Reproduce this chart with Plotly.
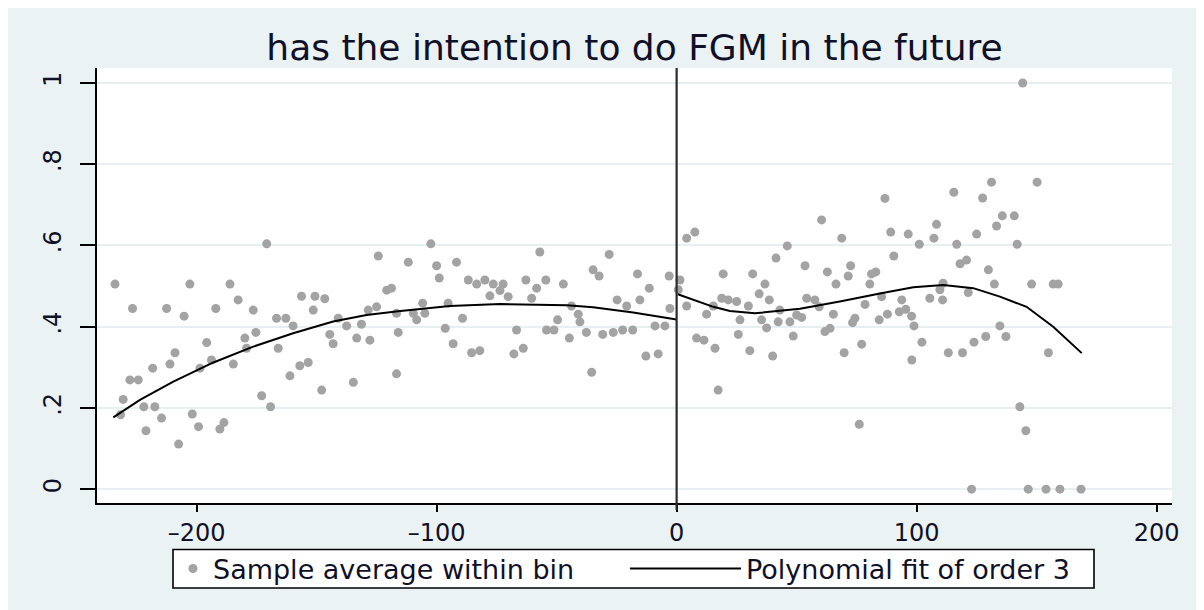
import plotly.graph_objects as go

# ---- data ----
bin_x = [-234.0, -231.7, -230.6, -227.8, -226.7, -224.3, -222.0, -221.1, -218.3, -217.4,
         -214.6, -212.5, -211.1, -209.0, -207.5, -205.2, -202.8, -201.8, -199.2, -198.6,
         -195.8, -193.8, -192.0, -190.3, -188.6, -186.1, -184.7, -182.7, -179.9, -179.2,
         -176.4, -175.3, -172.9, -170.8, -169.2, -166.7, -166.0, -162.8, -161.1, -159.8,
         -157.0, -156.3, -153.5, -151.4, -150.7, -147.9, -146.6, -144.5, -143.1, -141.0,
         -137.5, -134.7, -133.3, -131.3, -128.5, -127.8, -125.0, -124.3, -120.8, -118.8,
         -116.7, -116.7, -116.0, -111.8, -109.7, -108.3, -105.8, -104.9, -102.4, -100.0,
         -98.9, -96.4, -95.2, -93.1, -91.7, -89.2, -86.8, -85.4, -83.3, -82.0,
         -79.9, -77.8, -76.4, -73.6, -72.3, -70.2, -67.8, -66.7, -63.9, -62.8,
         -60.4, -58.3, -57.0, -54.5, -54.2, -51.1, -49.6, -47.2, -44.7, -43.8,
         -41.0, -40.3, -37.6, -35.4, -34.8, -32.3, -30.8, -28.1, -26.4, -24.8,
         -22.5, -20.8, -18.3, -16.3, -15.3, -12.8, -11.4, -9.0, -7.7, -4.9,
         -3.1, -2.8,
         0.7, 1.4, 4.2, 4.2, 7.6, 8.3, 11.4, 12.5, 15.3, 16.0,
         17.3, 18.8, 19.4, 21.5, 25.0, 25.7, 26.4, 29.9, 30.5, 31.7,
         34.4, 35.4, 36.8, 37.5, 38.6, 40.0, 41.4, 42.3, 43.0, 46.1,
         47.2, 48.6, 50.0, 52.1, 53.5, 54.2, 57.6, 59.4, 60.4, 61.8,
         62.8, 63.9, 65.3, 66.4, 68.8, 69.8, 71.5, 72.5, 73.3, 74.3,
         76.1, 77.1, 78.5, 80.5, 81.2, 83.0, 84.4, 85.4, 86.8, 87.8,
         89.2, 90.5, 92.8, 93.8, 95.5, 96.5, 97.9, 98.0, 98.9, 101.1,
         102.2, 105.5, 107.2, 108.3, 109.7, 110.8, 111.0, 113.2, 115.5, 116.7,
         118.1, 119.1, 120.8, 121.5, 122.9, 123.9, 125.0, 127.5, 128.8, 129.9,
         131.2, 132.4, 133.3, 134.7, 135.7, 137.2, 140.7, 141.9, 143.0, 144.2,
         145.5, 146.5, 147.9, 150.2, 153.9, 154.9, 156.9, 159.0, 159.7, 168.5]
bin_y = [0.505, 0.183, 0.221, 0.269, 0.445, 0.269, 0.203, 0.144, 0.298, 0.203,
         0.175, 0.445, 0.308, 0.336, 0.111, 0.426, 0.505, 0.185, 0.154, 0.298,
         0.361, 0.318, 0.445, 0.148, 0.164, 0.505, 0.308, 0.466, 0.372, 0.347,
         0.441, 0.386, 0.230, 0.604, 0.203, 0.421, 0.347, 0.421, 0.279, 0.402,
         0.304, 0.475, 0.312, 0.441, 0.475, 0.244, 0.469, 0.381, 0.358, 0.421,
         0.402, 0.263, 0.372, 0.406, 0.441, 0.367, 0.449, 0.574, 0.490, 0.495,
         0.433, 0.284, 0.386, 0.559, 0.433, 0.417, 0.458, 0.433, 0.604, 0.550,
         0.520, 0.396, 0.458, 0.358, 0.559, 0.421, 0.515, 0.336, 0.505, 0.341,
         0.515, 0.476, 0.505, 0.489, 0.505, 0.474, 0.333, 0.392, 0.347, 0.515,
         0.470, 0.495, 0.584, 0.515, 0.392, 0.392, 0.417, 0.505, 0.372, 0.451,
         0.431, 0.412, 0.386, 0.288, 0.540, 0.525, 0.381, 0.578, 0.386, 0.466,
         0.392, 0.451, 0.392, 0.530, 0.466, 0.328, 0.495, 0.402, 0.333, 0.402,
         0.525, 0.445,
         0.491, 0.515, 0.618, 0.451, 0.633, 0.372, 0.367, 0.431, 0.451, 0.347,
         0.244, 0.470, 0.530, 0.466, 0.462, 0.381, 0.417, 0.451, 0.341, 0.530,
         0.481, 0.417, 0.505, 0.397, 0.466, 0.328, 0.569, 0.412, 0.441, 0.599,
         0.412, 0.377, 0.429, 0.423, 0.550, 0.470, 0.466, 0.449, 0.663, 0.388,
         0.535, 0.396, 0.431, 0.505, 0.618, 0.336, 0.525, 0.550, 0.410, 0.421,
         0.160, 0.357, 0.455, 0.505, 0.530, 0.535, 0.417, 0.474, 0.716, 0.431,
         0.633, 0.574, 0.437, 0.466, 0.443, 0.628, 0.426, 0.318, 0.402, 0.603,
         0.362, 0.470, 0.618, 0.652, 0.491, 0.466, 0.507, 0.336, 0.731, 0.603,
         0.555, 0.336, 0.564, 0.484, 0.000, 0.362, 0.628, 0.717, 0.376, 0.540,
         0.756, 0.505, 0.648, 0.402, 0.673, 0.376, 0.673, 0.603, 0.203, 1.000,
         0.144, 0.000, 0.505, 0.756, 0.000, 0.336, 0.505, 0.505, 0.000, 0.000]

fit_left_x = [-234.7, -223.6, -209.7, -193.0, -176.4, -159.8, -143.1, -129.2, -116.0,
              -94.5, -73.6, -63.9, -45.8, -34.8, -18.1, 0.0]
fit_left_y = [0.177, 0.220, 0.265, 0.312, 0.351, 0.384, 0.413, 0.429, 0.438,
              0.451, 0.456, 0.455, 0.453, 0.448, 0.435, 0.418]
fit_right_x = [0.5, 7.0, 15.3, 22.2, 32.6, 51.4, 68.0, 84.7, 98.6, 111.1, 123.6,
               134.7, 145.8, 156.9, 168.8]
fit_right_y = [0.480, 0.466, 0.449, 0.439, 0.433, 0.444, 0.462, 0.482, 0.497, 0.503,
               0.495, 0.474, 0.449, 0.400, 0.335]

x_ticks = [-200, -100, 0, 100, 200]
x_ticktext = ["\u2013200", "\u2013100", "0", "100", "200"]
y_ticks = [0, 0.2, 0.4, 0.6, 0.8, 1]
y_ticktext = ["0", ".2", ".4", ".6", ".8", "1"]

title_text = "has the intention to do FGM in the future"
scatter_name = "Sample average within bin"
fit_name = "Polynomial fit of order 3"

# ---- figure ----
BG = "#EAF2F3"
FONT = "DejaVu Sans"
TXT = "#101028"
W, H = 1204, 610
ML, MR, MT, MB = 89, 40, 60, 115
PW, PH = W - ML - MR, H - MT - MB
OFF = 8  # page offset of the figure in the screenshot


def px2x(s):
    """screen x pixel -> paper x"""
    return (s - OFF - ML) / PW


def py2y(s):
    """screen y pixel -> paper y"""
    return (H - MB - (s - OFF)) / PH


fig = go.Figure()
fig.add_trace(go.Scatter(
    x=bin_x, y=bin_y, mode="markers", name=scatter_name,
    marker=dict(color="#A3A3A3", size=9, line=dict(width=0)),
    legend="legend", cliponaxis=False,
))
fig.add_trace(go.Scatter(
    x=fit_left_x, y=fit_left_y, mode="lines", name=fit_name,
    line=dict(color="black", width=2), legend="legend2", legendgroup="fit",
))
fig.add_trace(go.Scatter(
    x=fit_right_x, y=fit_right_y, mode="lines", name=fit_name,
    line=dict(color="black", width=2), legend="legend2", legendgroup="fit",
    showlegend=False,
))

shapes = [
    # legend box
    dict(type="rect", xref="paper", yref="paper", x0=px2x(173), x1=px2x(1094),
         y0=py2y(588), y1=py2y(549.5), fillcolor="white",
         line=dict(color="black", width=1.6), layer="below"),
    # vertical line at the cutoff
    dict(type="line", xref="x", yref="paper", x0=0, x1=0, y0=py2y(510), y1=1,
         line=dict(color="#2b2b2b", width=2.2), layer="above"),
]

fig.update_layout(
    width=W, height=H,
    margin=dict(l=ML, r=MR, t=MT, b=MB, pad=0),
    paper_bgcolor=BG, plot_bgcolor="white",
    showlegend=True,
    font=dict(family=FONT, color=TXT, size=24),
    title=dict(text=title_text, x=0.5, xref="paper", xanchor="center",
               y=1 - (47 - OFF) / H, yref="container", yanchor="middle",
               font=dict(family=FONT, size=36, color=TXT)),
    xaxis=dict(range=[-241.5, 206.4], tickmode="array", tickvals=x_ticks,
               ticktext=x_ticktext, showgrid=False, zeroline=False,
               showline=True, linecolor="black", linewidth=1.6,
               ticks="outside", ticklen=7, tickwidth=1.6, tickcolor="black",
               tickfont=dict(size=24, color=TXT), ticklabelstandoff=0),
    yaxis=dict(range=[-0.034, 1.037], tickmode="array", tickvals=y_ticks,
               ticktext=y_ticktext, showgrid=True, gridcolor="#E6EFF1", gridwidth=1.6,
               zeroline=False, showline=True, linecolor="black", linewidth=1.6,
               ticks="outside", ticklen=15, tickwidth=1.6, tickcolor="black",
               tickangle=-90, tickfont=dict(size=24, color=TXT), ticklabelstandoff=10),
    legend=dict(orientation="h", x=px2x(173), xanchor="left", y=py2y(569),
                yanchor="middle", bgcolor="rgba(0,0,0,0)", borderwidth=0,
                font=dict(family=FONT, size=27, color=TXT)),
    legend2=dict(orientation="h", x=px2x(625), xanchor="left", y=py2y(569),
                 yanchor="middle", bgcolor="rgba(0,0,0,0)", borderwidth=0,
                 itemwidth=111,
                 font=dict(family=FONT, size=27, color=TXT)),
    shapes=shapes,
)

fig.write_html("out.html")
